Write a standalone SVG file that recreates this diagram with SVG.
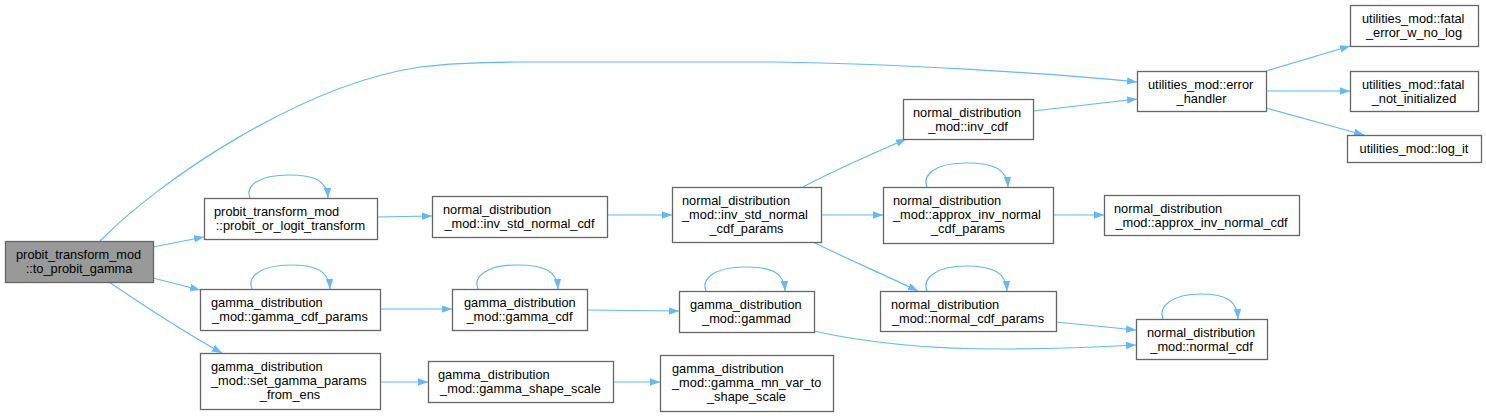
<svg xmlns="http://www.w3.org/2000/svg" width="1486" height="416" viewBox="0 0 1486 416">
<style>
.n rect{fill:#ffffff;stroke:#666666;stroke-width:1.3}
.n.root rect{fill:#999999}
.n text{font-family:"Liberation Sans",Arial,Helvetica,sans-serif;font-size:12.8px;fill:#000000}
.m{text-anchor:middle}
.e path{fill:none;stroke:#63b8ff;stroke-width:1.2;marker-end:url(#ah)}
</style>
<defs>
<marker id="ah" markerWidth="12" markerHeight="9" refX="10" refY="3.75" orient="auto" markerUnits="userSpaceOnUse">
<path d="M0,0 L10,3.75 L0,7.5 z" fill="#63b8ff" stroke="none"/>
</marker>
</defs>
<rect width="1486" height="416" fill="#ffffff"/>
<g id="connectors" class="e">
<path d="M100,241 C160,180 300,85 420,67 C460,62 500,62 520,62 L776,62 C900,64 1050,73 1137,82"/>
<path d="M1033,111 L1137,99"/>
<path d="M1266,71 L1350,46"/>
<path d="M1266,91 L1350,91"/>
<path d="M1266,108 L1364,135"/>
<path d="M153,247 L204,237"/>
<path d="M153,278 L200,290"/>
<path d="M109,282 C140,303 180,330 222,353"/>
<path d="M250,198 C245,186 258,175 289,175 C314,175 327,180 328,198"/>
<path d="M252,289 C247,277 260,265 291,265 C316,265 329,271 330,289"/>
<path d="M377,217 L432,216"/>
<path d="M380,309 L452,309"/>
<path d="M380,382 L428,382"/>
<path d="M607,215 L672,215"/>
<path d="M478,289 C473,277 486,265 517,265 C545,265 557,271 558,289"/>
<path d="M587,310 L679,311"/>
<path d="M706,291 C701,279 714,267 745,267 C773,267 784,273 785,291"/>
<path d="M613,382 L660,382"/>
<path d="M814,331 C876,345 940,349 1000,349 C1050,349 1100,347 1136,345"/>
<path d="M803,187 C830,172 870,155 906,139"/>
<path d="M821,215 L883,215"/>
<path d="M813,242 C845,258 885,275 918,291"/>
<path d="M927,187 C922,175 935,163 966,163 C994,163 1007,169 1008,187"/>
<path d="M1053,215 L1104,215"/>
<path d="M927,291 C922,279 935,266 966,266 C994,266 1006,273 1007,291"/>
<path d="M1056,322 L1136,330"/>
<path d="M1163,319 C1158,307 1171,294 1201,294 C1227,294 1237,301 1238,319"/>
</g>
<g id="n0" class="n root"><rect x="5.5" y="241.5" width="148" height="41"/><text x="16" y="259">probit_transform_mod</text><text class="m" x="79" y="273">::to_probit_gamma</text></g>
<g id="n1" class="n"><rect x="204.5" y="198.5" width="173" height="41"/><text x="214" y="216">probit_transform_mod</text><text class="m" x="290.5" y="230">::probit_or_logit_transform</text></g>
<g id="n2" class="n"><rect x="200.5" y="289.5" width="180" height="41"/><text x="211" y="307">gamma_distribution</text><text class="m" x="290" y="321">_mod::gamma_cdf_params</text></g>
<g id="n3" class="n"><rect x="200.5" y="353.5" width="180" height="56"/><text x="211" y="371">gamma_distribution</text><text x="211" y="385">_mod::set_gamma_params</text><text class="m" x="290" y="399">_from_ens</text></g>
<g id="n4" class="n"><rect x="432.5" y="196.5" width="175" height="41"/><text x="443" y="214">normal_distribution</text><text class="m" x="519.5" y="228">_mod::inv_std_normal_cdf</text></g>
<g id="n5" class="n"><rect x="672.5" y="187.5" width="149" height="55"/><text x="682" y="205">normal_distribution</text><text x="682" y="219">_mod::inv_std_normal</text><text class="m" x="746.5" y="233">_cdf_params</text></g>
<g id="n6" class="n"><rect x="452.5" y="289.5" width="135" height="41"/><text x="464" y="307">gamma_distribution</text><text class="m" x="519.5" y="321">_mod::gamma_cdf</text></g>
<g id="n7" class="n"><rect x="679.5" y="291.5" width="135" height="41"/><text x="690" y="309">gamma_distribution</text><text class="m" x="746.5" y="323">_mod::gammad</text></g>
<g id="n8" class="n"><rect x="428.5" y="361.5" width="185" height="41"/><text x="438" y="379">gamma_distribution</text><text class="m" x="520.5" y="393">_mod::gamma_shape_scale</text></g>
<g id="n9" class="n"><rect x="660.5" y="355.5" width="173" height="56"/><text x="672" y="373">gamma_distribution</text><text x="672" y="387">_mod::gamma_mn_var_to</text><text class="m" x="746.5" y="401">_shape_scale</text></g>
<g id="n10" class="n"><rect x="903.5" y="99.5" width="130" height="40"/><text x="913" y="117">normal_distribution</text><text class="m" x="968" y="131">_mod::inv_cdf</text></g>
<g id="n11" class="n"><rect x="883.5" y="187.5" width="170" height="56"/><text x="893" y="205">normal_distribution</text><text x="893" y="219">_mod::approx_inv_normal</text><text class="m" x="968" y="233">_cdf_params</text></g>
<g id="n12" class="n"><rect x="1104.5" y="195.5" width="195" height="40"/><text x="1114" y="213">normal_distribution</text><text class="m" x="1201.5" y="227">_mod::approx_inv_normal_cdf</text></g>
<g id="n13" class="n"><rect x="880.5" y="291.5" width="176" height="40"/><text x="891" y="309">normal_distribution</text><text class="m" x="968" y="323">_mod::normal_cdf_params</text></g>
<g id="n14" class="n"><rect x="1136.5" y="319.5" width="131" height="40"/><text x="1147" y="337">normal_distribution</text><text class="m" x="1201.5" y="351">_mod::normal_cdf</text></g>
<g id="n15" class="n"><rect x="1137.5" y="71.5" width="129" height="40"/><text x="1148" y="89">utilities_mod::error</text><text class="m" x="1201.5" y="103">_handler</text></g>
<g id="n16" class="n"><rect x="1350.5" y="5.5" width="128" height="41"/><text x="1362" y="23">utilities_mod::fatal</text><text class="m" x="1414" y="37">_error_w_no_log</text></g>
<g id="n17" class="n"><rect x="1350.5" y="71.5" width="128" height="40"/><text x="1362" y="89">utilities_mod::fatal</text><text class="m" x="1414" y="103">_not_initialized</text></g>
<g id="n18" class="n"><rect x="1347.5" y="135.5" width="134" height="27"/><text class="m" x="1414" y="153">utilities_mod::log_it</text></g>
</svg>
